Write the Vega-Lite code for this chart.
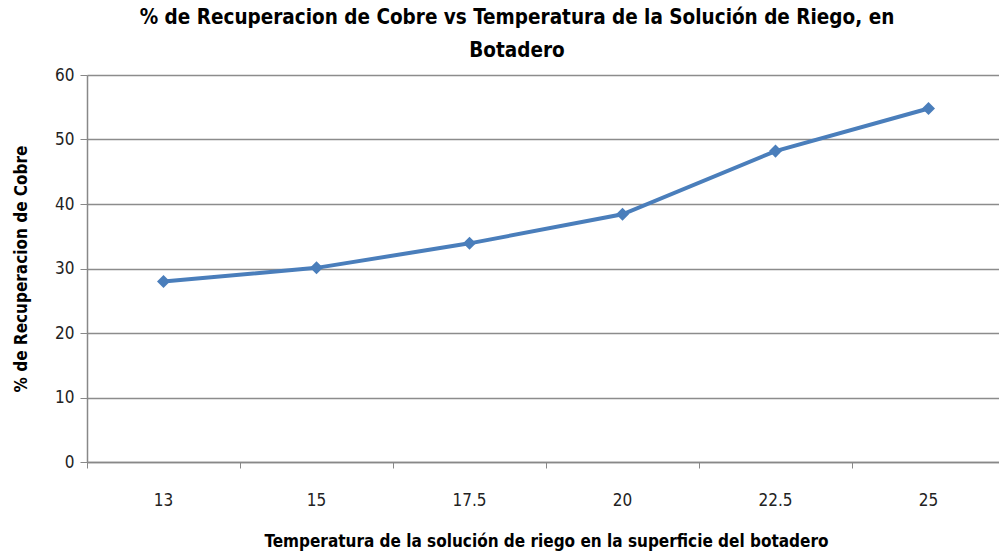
{
  "$schema": "https://vega.github.io/schema/vega-lite/v6.json",
  "autosize": "none",
  "width": 918,
  "height": 387,
  "padding": {"left": 87, "top": 75, "right": 0, "bottom": 90},
  "background": "white",
  "title": {
    "text": ["% de Recuperacion de Cobre vs Temperatura de la Solución de Riego, en", "Botadero"],
    "font": "DejaVu Sans Condensed, sans-serif",
    "fontSize": 20.5,
    "fontWeight": "bold",
    "color": "#000000",
    "anchor": "middle",
    "dx": -29,
    "lineHeight": 33,
    "offset": 5
  },
  "data": {
    "values": [
      {"temp": "13", "recuperacion": 28.0},
      {"temp": "15", "recuperacion": 30.1},
      {"temp": "17.5", "recuperacion": 33.9},
      {"temp": "20", "recuperacion": 38.4},
      {"temp": "22.5", "recuperacion": 48.2},
      {"temp": "25", "recuperacion": 54.8}
    ]
  },
  "config": {
    "view": {"stroke": null},
    "axis": {
      "labelFont": "DejaVu Sans Condensed, sans-serif",
      "titleFont": "DejaVu Sans Condensed, sans-serif",
      "labelColor": "#222222",
      "titleColor": "#000000",
      "domainColor": "#888888",
      "tickColor": "#888888",
      "gridColor": "#8c8c8c"
    }
  },
  "encoding": {
    "x": {
      "field": "temp",
      "type": "ordinal",
      "sort": null,
      "scale": {"type": "band", "paddingInner": 0, "paddingOuter": 0},
      "axis": {
        "title": "Temperatura de la solución de riego en la superficie del botadero",
        "titleFontSize": 17,
        "titleFontWeight": "bold",
        "titlePadding": 25,
        "labelAngle": 0,
        "labelFontSize": 17,
        "labelPadding": 24,
        "bandPosition": 0,
        "tickSize": 6,
        "grid": false,
        "domainWidth": 1.5
      }
    },
    "y": {
      "field": "recuperacion",
      "type": "quantitative",
      "scale": {"domain": [0, 60], "nice": false},
      "axis": {
        "title": "% de Recuperacion de Cobre",
        "titleFontSize": 17,
        "titleFontWeight": "bold",
        "titlePadding": 24,
        "values": [0, 10, 20, 30, 40, 50, 60],
        "labelFontSize": 17,
        "labelPadding": 6,
        "tickSize": 7,
        "grid": true,
        "gridWidth": 1.5,
        "domainWidth": 1.5
      }
    }
  },
  "layer": [
    {
      "mark": {"type": "line", "color": "#4a7ebb", "strokeWidth": 4},
      "encoding": {}
    },
    {
      "mark": {"type": "point", "shape": "diamond", "filled": true, "color": "#4a7ebb", "size": 170, "opacity": 1},
      "encoding": {}
    }
  ]
}
